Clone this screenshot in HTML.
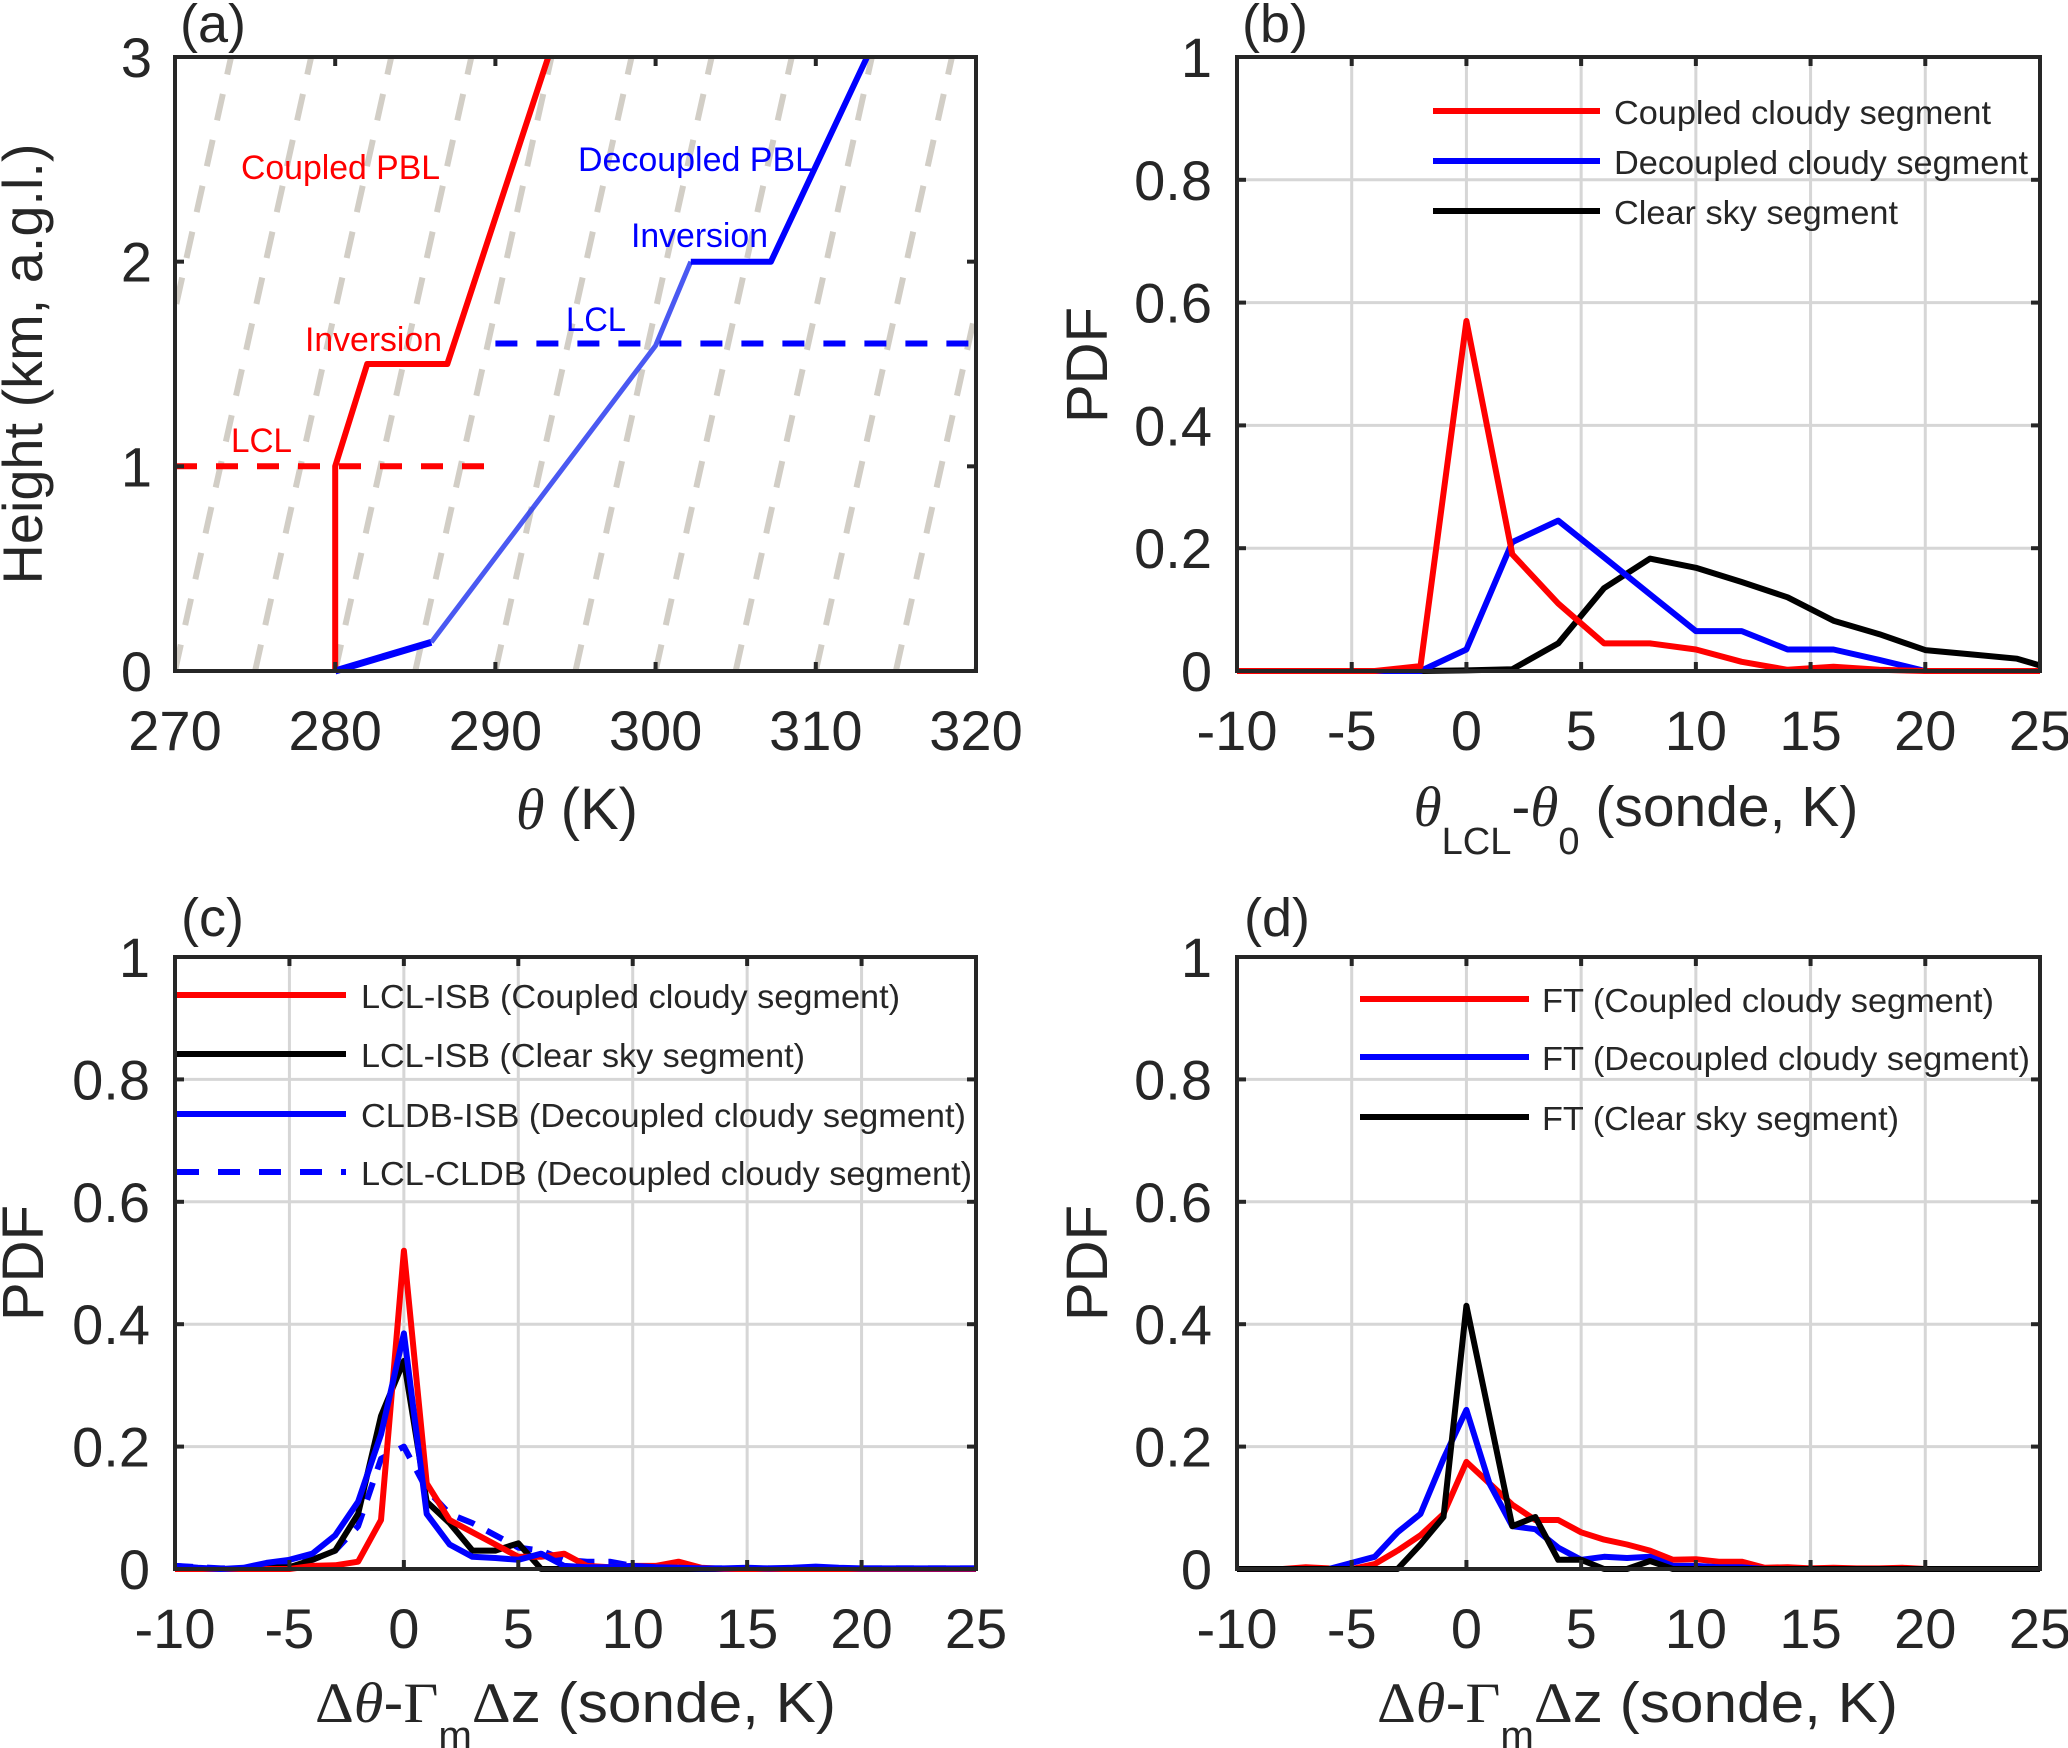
<!DOCTYPE html>
<html><head><meta charset="utf-8"><style>
html,body{margin:0;padding:0;background:#fff}
svg{display:block;font-family:"Liberation Sans",sans-serif}
</style></head><body>
<svg id="fig" xmlns="http://www.w3.org/2000/svg" width="2068" height="1748" viewBox="0 0 2068 1748">
<g id="layer"></g>
</svg>
<script>
// ---- data ----
const aXTicks = [270,280,290,300,310,320];
const aYTicks = [0,1,2,3];
const adiabatStarts = [255,260,265,270,275,280,285,290,295,300,305,310,315,320];
const coupledTheta = [280,280,282,287,293.3];
const coupledZ = [0,1,1.5,1.5,3];
const decoupledTheta = [280,286,300,302.2,307.2,313.2];
const decoupledZ = [0,0.14,1.59,2.0,2.0,3];
const coupledLCL = 1.0;
const decoupledLCL = 1.6;

const pdfYTicks = [0,0.2,0.4,0.6,0.8,1];
const pdfYLabels = ["0","0.2","0.4","0.6","0.8","1"];
const pdfXTicks = [-10,-5,0,5,10,15,20,25];

const bX = [-10,-8,-6,-4,-2,0,2,4,6,8,10,12,14,16,18,20,22,24,25];
const bCoupled = [0,0,0,0,0.008,0.57,0.19,0.11,0.045,0.045,0.035,0.015,0.002,0.007,0.002,0,0,0,0];
const bDecoupled = [0,0,0,0,0,0.035,0.21,0.245,0.185,0.125,0.065,0.065,0.035,0.035,0.018,0,0,0,0];
const bClear = [0,0,0,0,0,0.001,0.003,0.045,0.135,0.183,0.168,0.145,0.12,0.082,0.06,0.034,0.027,0.02,0.009];

const cdX = [-10,-9,-8,-7,-6,-5,-4,-3,-2,-1,0,1,2,3,4,5,6,7,8,9,10,11,12,13,14,15,16,17,18,19,20,21,22,23,24,25];
const cRed = [0,0,0,0,0,0,0.005,0.006,0.012,0.08,0.52,0.14,0.08,0.06,0.04,0.02,0.02,0.025,0.005,0.003,0.005,0.005,0.012,0.002,0,0,0,0,0,0,0,0,0,0,0,0];
const cBlack = [0,0,0,0,0.002,0.003,0.015,0.03,0.09,0.25,0.34,0.11,0.075,0.03,0.03,0.042,0,0,0,0,0,0,0,0,0,0,0,0,0,0,0,0,0,0,0,0];
const cBlue = [0.005,0.002,0,0.002,0.01,0.015,0.025,0.055,0.11,0.22,0.385,0.09,0.04,0.02,0.018,0.015,0.025,0.005,0.003,0.003,0.005,0.003,0.002,0.001,0.001,0.002,0.001,0.002,0.004,0.002,0.001,0.001,0.001,0.001,0.001,0.001];
const cBlueDash = [0.005,0.003,0.001,0.001,0.005,0.01,0.015,0.03,0.07,0.18,0.2,0.13,0.09,0.075,0.055,0.035,0.03,0.015,0.012,0.012,0.005,0.003,0.001,0.001,0.001,0.001,0.001,0.001,0.001,0.001,0.001,0.001,0.001,0.001,0.001,0.001];

const dRed = [0,0,0,0.003,0.001,0,0.008,0.03,0.055,0.09,0.175,0.14,0.105,0.08,0.08,0.06,0.048,0.04,0.03,0.015,0.016,0.012,0.012,0.002,0.003,0.001,0.002,0.001,0.001,0.002,0,0,0,0,0,0];
const dBlue = [0,0,0,0,0,0.01,0.02,0.06,0.09,0.18,0.26,0.14,0.07,0.065,0.035,0.015,0.02,0.018,0.02,0.005,0.005,0.003,0.003,0,0,0,0,0,0,0,0,0,0,0,0,0];
const dBlack = [0,0,0,0,0,0,0,0,0.04,0.085,0.43,0.25,0.07,0.085,0.015,0.015,0,0,0.013,0,0,0,0,0,0,0,0,0,0,0,0,0,0,0,0,0];

const NS = "http://www.w3.org/2000/svg";
const layer = document.getElementById("layer");
function mk(tag, attrs, parent){
  const e = document.createElementNS(NS, tag);
  for (const k in attrs) e.setAttribute(k, attrs[k]);
  (parent||layer).appendChild(e);
  return e;
}
function axes(x0,x1,y0,y1,xmin,xmax,ymin,ymax){
  return {sx:v=>x0+(v-xmin)/(xmax-xmin)*(x1-x0), sy:v=>y1-(v-ymin)/(ymax-ymin)*(y1-y0), x0,x1,y0,y1};
}
function frame(ax, xt, yt, xl, yl, grid, name){
  const g = mk("g",{});
  
  
  if (grid){
    xt.forEach(v=>{ const l=mk("line",{x1:ax.sx(v),x2:ax.sx(v),y1:ax.y0,y2:ax.y1,stroke:"#d6d6d6","stroke-width":3},g);
       });
    yt.forEach(v=>{ const l=mk("line",{x1:ax.x0,x2:ax.x1,y1:ax.sy(v),y2:ax.sy(v),stroke:"#d6d6d6","stroke-width":3},g);
       });
  }
  return g;
}
function box(ax, xt, yt, xl, yl, name, ylx){
  const g = mk("g",{});
  
  
  xt.forEach((v,i)=>{
    mk("line",{x1:ax.sx(v),x2:ax.sx(v),y1:ax.y1,y2:ax.y1-9,stroke:"#262626","stroke-width":4},g);
    mk("line",{x1:ax.sx(v),x2:ax.sx(v),y1:ax.y0,y2:ax.y0+9,stroke:"#262626","stroke-width":4},g);
    const t=mk("text",{x:ax.sx(v),y:ax.y1+79,"text-anchor":"middle","font-size":56,fill:"#262626"},g);
    
    
    t.textContent = xl[i];
  });
  yt.forEach((v,i)=>{
    mk("line",{x1:ax.x0,x2:ax.x0+9,y1:ax.sy(v),y2:ax.sy(v),stroke:"#262626","stroke-width":4},g);
    mk("line",{x1:ax.x1,x2:ax.x1-9,y1:ax.sy(v),y2:ax.sy(v),stroke:"#262626","stroke-width":4},g);
    const t=mk("text",{x:ylx,y:ax.sy(v)+20,"text-anchor":"end","font-size":56,fill:"#262626"},g);
    
    
    t.textContent = yl[i];
  });
  const r=mk("rect",{x:ax.x0,y:ax.y0,width:ax.x1-ax.x0,height:ax.y1-ax.y0,fill:"none",stroke:"#262626","stroke-width":4},g);
  
  
}
function series(ax, xs, ys, color, name, dash, width, op){
  const pts = xs.map((x,i)=>ax.sx(x).toFixed(1)+","+ax.sy(ys[i]).toFixed(1)).join(" ");
  const p = mk("polyline",{points:pts,fill:"none",stroke:color,"stroke-width":width||6,"stroke-linejoin":"round","stroke-dasharray":dash||"none",opacity:op||1});
  
  
  return p;
}
function clip(id, ax){
  const d = mk("clipPath",{id:id});
  mk("rect",{x:ax.x0,y:ax.y0,width:ax.x1-ax.x0,height:ax.y1-ax.y0},d);
}

// ---- panel a ----
const A = axes(175,976,57,671,270,320,0,3);
clip("clipA",A);
const adGroup = mk("g",{"clip-path":"url(#clipA)"});


adiabatStarts.forEach(t0=>{
  const l = mk("line",{x1:A.sx(t0),y1:A.sy(0),x2:A.sx(t0+8.5),y2:A.sy(3),stroke:"#d2cec6","stroke-width":6,"stroke-dasharray":"27 20"},adGroup);
  
  
});
series(A,[270,290],[coupledLCL,coupledLCL],"#ff0000","coupled-lcl-line","22 19",6);
series(A,[290,320],[decoupledLCL,decoupledLCL],"#0000ff","decoupled-lcl-line","22 19",6);
series(A,coupledTheta,coupledZ,"#ff0000","coupled-profile",null,6);
series(A,decoupledTheta.slice(0,2),decoupledZ.slice(0,2),"#0000ff","decoupled-profile-surface",null,7);
series(A,decoupledTheta.slice(1,4),decoupledZ.slice(1,4),"#2a3cf0","decoupled-profile-mixed",null,5,0.85);
series(A,decoupledTheta.slice(3),decoupledZ.slice(3),"#0000ff","decoupled-profile-upper",null,6);
box(A,aXTicks,aYTicks,aXTicks.map(String),aYTicks.map(String),"panel-a",152);

// ---- panel b ----
const B = axes(1237,2040,57,671,-10,25,0,1);
frame(B,pdfXTicks,pdfYTicks,null,null,true,"panel-b-grid");
series(B,bX,bClear,"#000000","clear-sky-line");
series(B,bX,bDecoupled,"#0000ff","decoupled-cloudy-line");
series(B,bX,bCoupled,"#ff0000","coupled-cloudy-line");
box(B,pdfXTicks,pdfYTicks,pdfXTicks.map(String),pdfYLabels,"panel-b",1212);

// ---- panel c ----
const C = axes(175,976,957,1569,-10,25,0,1);
frame(C,pdfXTicks,pdfYTicks,null,null,true,"panel-c-grid");
series(C,cdX,cBlueDash,"#0000ff","lcl-cldb-decoupled-line","18 14",6);
series(C,cdX,cBlack,"#000000","lcl-isb-clear-line");
series(C,cdX,cRed,"#ff0000","lcl-isb-coupled-line");
series(C,cdX,cBlue,"#0000ff","cldb-isb-decoupled-line");
box(C,pdfXTicks,pdfYTicks,pdfXTicks.map(String),pdfYLabels,"panel-c",150);

// ---- panel d ----
const D = axes(1237,2040,957,1569,-10,25,0,1);
frame(D,pdfXTicks,pdfYTicks,null,null,true,"panel-d-grid");
series(D,cdX,dRed,"#ff0000","ft-coupled-line");
series(D,cdX,dBlue,"#0000ff","ft-decoupled-line");
series(D,cdX,dBlack,"#000000","ft-clear-line");
box(D,pdfXTicks,pdfYTicks,pdfXTicks.map(String),pdfYLabels,"panel-d",1212);
</script>
<svg width="2068" height="1748" style="position:absolute;left:0;top:0" xmlns="http://www.w3.org/2000/svg" font-family="Liberation Sans, sans-serif" fill="#262626">
  <!-- panel labels -->
  <text x="180" y="42" font-size="54">(a)</text>
  <text x="1242" y="42" font-size="54">(b)</text>
  <text x="181" y="936" font-size="54">(c)</text>
  <text x="1244" y="936" font-size="54">(d)</text>

  <!-- panel a annotations -->
  <g font-size="34">
    <text x="241" y="179" fill="#ff0000" textLength="199" lengthAdjust="spacingAndGlyphs">Coupled PBL</text>
    <text x="578" y="171" fill="#0000ff" textLength="236" lengthAdjust="spacingAndGlyphs">Decoupled PBL</text>
    <text x="631" y="247" fill="#0000ff" textLength="137" lengthAdjust="spacingAndGlyphs">Inversion</text>
    <text x="566" y="331" fill="#0000ff" textLength="60" lengthAdjust="spacingAndGlyphs">LCL</text>
    <text x="305" y="351" fill="#ff0000" textLength="137" lengthAdjust="spacingAndGlyphs">Inversion</text>
    <text x="231" y="452" fill="#ff0000" textLength="61" lengthAdjust="spacingAndGlyphs">LCL</text>
  </g>

  <!-- axis titles -->
  <text transform="translate(42,364) rotate(-90)" text-anchor="middle" font-size="56" textLength="441" lengthAdjust="spacingAndGlyphs">Height (km, a.g.l.)</text>
  <text x="577" y="829" text-anchor="middle" font-size="58"><tspan font-family="Liberation Serif, serif" font-style="italic">θ</tspan> (K)</text>

  <text transform="translate(1107,365) rotate(-90)" text-anchor="middle" font-size="58">PDF</text>
  <text x="1636" y="826" text-anchor="middle" font-size="57"><tspan font-family="Liberation Serif, serif" font-style="italic">θ</tspan><tspan font-size="38" dy="28">LCL</tspan><tspan dy="-28">-</tspan><tspan font-family="Liberation Serif, serif" font-style="italic">θ</tspan><tspan font-size="38" dy="28">0</tspan><tspan dy="-28"> (sonde, K)</tspan></text>

  <text transform="translate(43,1263) rotate(-90)" text-anchor="middle" font-size="58">PDF</text>
  <text x="315" y="1722" font-size="57" textLength="521" lengthAdjust="spacingAndGlyphs"><tspan font-family="Liberation Serif, serif">Δ</tspan><tspan font-family="Liberation Serif, serif" font-style="italic">θ</tspan>-<tspan font-family="Liberation Serif, serif">Γ</tspan><tspan font-size="38" dy="26">m</tspan><tspan dy="-26" font-family="Liberation Serif, serif">Δ</tspan>z (sonde, K)</text>

  <text transform="translate(1107,1263) rotate(-90)" text-anchor="middle" font-size="58">PDF</text>
  <text x="1377" y="1722" font-size="57" textLength="521" lengthAdjust="spacingAndGlyphs"><tspan font-family="Liberation Serif, serif">Δ</tspan><tspan font-family="Liberation Serif, serif" font-style="italic">θ</tspan>-<tspan font-family="Liberation Serif, serif">Γ</tspan><tspan font-size="38" dy="26">m</tspan><tspan dy="-26" font-family="Liberation Serif, serif">Δ</tspan>z (sonde, K)</text>

  <!-- legend b -->
  <g font-size="33">
    <line x1="1433" x2="1600" y1="111" y2="111" stroke="#ff0000" stroke-width="6"/>
    <text x="1614" y="124" textLength="377" lengthAdjust="spacingAndGlyphs">Coupled cloudy segment</text>
    <line x1="1433" x2="1600" y1="161" y2="161" stroke="#0000ff" stroke-width="6"/>
    <text x="1614" y="174" textLength="414" lengthAdjust="spacingAndGlyphs">Decoupled cloudy segment</text>
    <line x1="1433" x2="1600" y1="211" y2="211" stroke="#000000" stroke-width="6"/>
    <text x="1614" y="224" textLength="284" lengthAdjust="spacingAndGlyphs">Clear sky segment</text>
  </g>

  <!-- legend c -->
  <g font-size="33">
    <line x1="177" x2="346" y1="995" y2="995" stroke="#ff0000" stroke-width="6"/>
    <text x="361" y="1008" textLength="539" lengthAdjust="spacingAndGlyphs">LCL-ISB (Coupled cloudy segment)</text>
    <line x1="177" x2="346" y1="1054" y2="1054" stroke="#000000" stroke-width="6"/>
    <text x="361" y="1067" textLength="444" lengthAdjust="spacingAndGlyphs">LCL-ISB (Clear sky segment)</text>
    <line x1="177" x2="346" y1="1114" y2="1114" stroke="#0000ff" stroke-width="6"/>
    <text x="361" y="1127" textLength="605" lengthAdjust="spacingAndGlyphs">CLDB-ISB (Decoupled cloudy segment)</text>
    <line x1="177" x2="346" y1="1172" y2="1172" stroke="#0000ff" stroke-width="6" stroke-dasharray="22 19"/>
    <text x="361" y="1185" textLength="611" lengthAdjust="spacingAndGlyphs">LCL-CLDB (Decoupled cloudy segment)</text>
  </g>

  <!-- legend d -->
  <g font-size="33">
    <line x1="1360" x2="1529" y1="999" y2="999" stroke="#ff0000" stroke-width="6"/>
    <text x="1542" y="1012" textLength="452" lengthAdjust="spacingAndGlyphs">FT (Coupled cloudy segment)</text>
    <line x1="1360" x2="1529" y1="1057" y2="1057" stroke="#0000ff" stroke-width="6"/>
    <text x="1542" y="1070" textLength="488" lengthAdjust="spacingAndGlyphs">FT (Decoupled cloudy segment)</text>
    <line x1="1360" x2="1529" y1="1117" y2="1117" stroke="#000000" stroke-width="6"/>
    <text x="1542" y="1130" textLength="357" lengthAdjust="spacingAndGlyphs">FT (Clear sky segment)</text>
  </g>
</svg>
</body></html>
